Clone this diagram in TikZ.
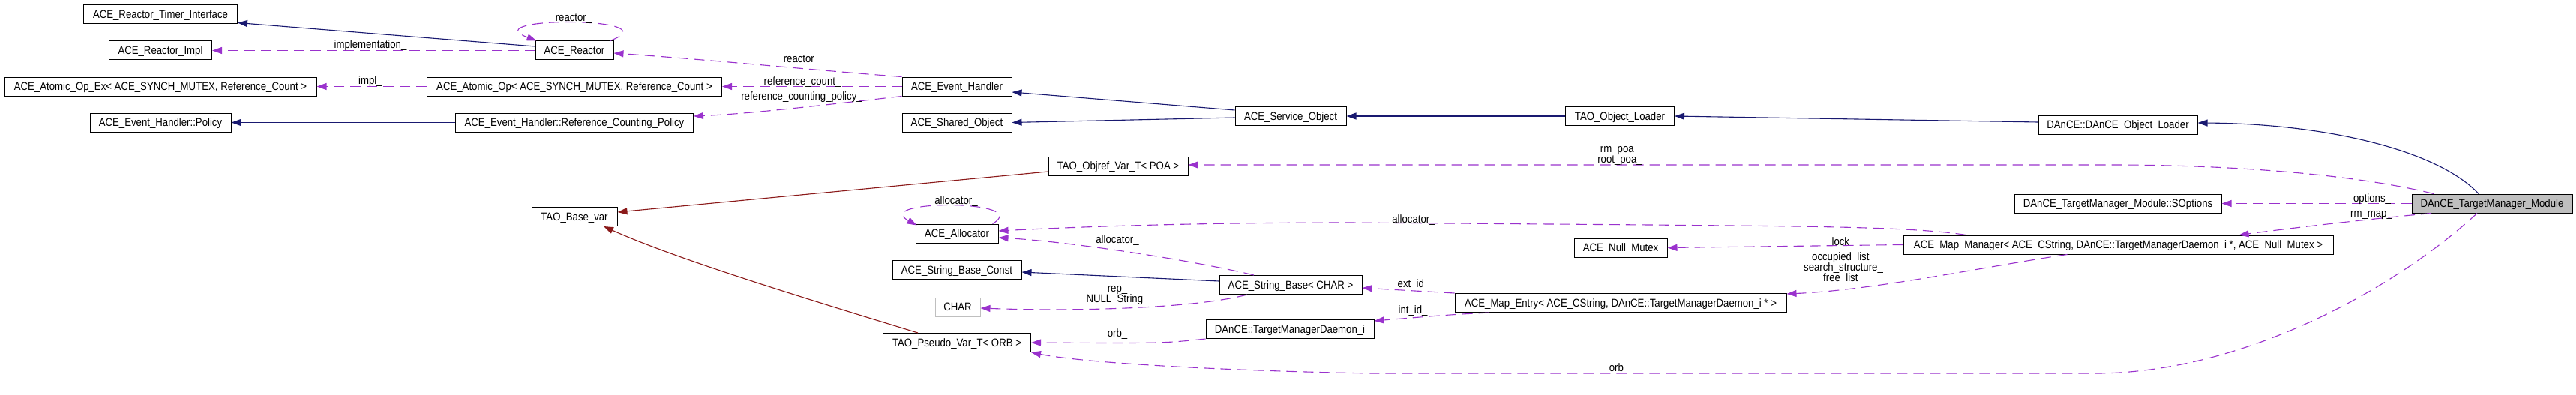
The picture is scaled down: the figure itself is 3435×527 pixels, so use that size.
\documentclass[tikz,border=0pt]{standalone}
\usepackage{fontspec}
\setmainfont{Liberation Sans}[FakeStretch=0.88]
\usetikzlibrary{arrows.meta}
\definecolor{inhblue}{HTML}{191970}
\definecolor{usepurple}{HTML}{9A32CD}
\definecolor{privbrown}{HTML}{8B1A1A}
\definecolor{boxgrey}{HTML}{BFBFBF}
\begin{document}
\begin{tikzpicture}[x=1pt,y=-1pt,
  box/.style={draw=black, line width=1pt, inner sep=0pt, minimum height=25pt,
    text height=12pt, text depth=2pt, font=\fontsize{15}{17}\selectfont},
  lbl/.style={inner sep=0pt, anchor=base, font=\fontsize{15}{17}\selectfont},
  tip/.style={-{Triangle[length=13pt,width=9pt]}},
  inherit/.style={tip, draw=inhblue, line width=1.1pt},
  privinherit/.style={tip, draw=privbrown, line width=1.1pt},
  uses/.style={tip, draw=usepurple, line width=1.1pt, dash pattern=on 14pt off 8pt},
]
\useasboundingbox (0,0) rectangle (3435,527);

% nodes
\node[box, minimum width=205pt] (tif) at (214,19.5) {ACE\_Reactor\_Timer\_Interface};
\node[box, minimum width=137pt] (rimpl) at (214,67.5) {ACE\_Reactor\_Impl};
\node[box, minimum width=416pt] (aopex) at (214,115.5) {ACE\_Atomic\_Op\_Ex< ACE\_SYNCH\_MUTEX, Reference\_Count >};
\node[box, minimum width=188pt] (policy) at (214,163.5) {ACE\_Event\_Handler::Policy};
\node[box, minimum width=104pt] (reactor) at (766,67.5) {ACE\_Reactor};
\node[box, minimum width=393pt] (aop) at (766,115.5) {ACE\_Atomic\_Op< ACE\_SYNCH\_MUTEX, Reference\_Count >};
\node[box, minimum width=317pt] (rcp) at (766,163.5) {ACE\_Event\_Handler::Reference\_Counting\_Policy};
\node[box, minimum width=114pt] (basevar) at (766,289) {TAO\_Base\_var};
\node[box, minimum width=146pt] (evh) at (1276,115.5) {ACE\_Event\_Handler};
\node[box, minimum width=146pt] (shared) at (1276,163.5) {ACE\_Shared\_Object};
\node[box, minimum width=110pt] (alloc) at (1276,311.5) {ACE\_Allocator};
\node[box, minimum width=172pt] (sbconst) at (1276,360) {ACE\_String\_Base\_Const};
\node[box, draw=boxgrey, minimum width=60pt] (char) at (1277,409.5) {CHAR};
\node[box, minimum width=197pt] (pseudo) at (1276,457) {TAO\_Pseudo\_Var\_T< ORB >};
\node[box, minimum width=186pt] (objref) at (1491,221.5) {TAO\_Objref\_Var\_T< POA >};
\node[box, minimum width=148pt] (svc) at (1721,155) {ACE\_Service\_Object};
\node[box, minimum width=190pt] (sbase) at (1721,380) {ACE\_String\_Base< CHAR >};
\node[box, minimum width=224pt] (daemon) at (1720,439) {DAnCE::TargetManagerDaemon\_i};
\node[box, minimum width=145pt] (tol) at (2160,155) {TAO\_Object\_Loader};
\node[box, minimum width=124pt] (nullmx) at (2161,330.5) {ACE\_Null\_Mutex};
\node[box, minimum width=442pt] (mapentry) at (2161,404) {ACE\_Map\_Entry< ACE\_CString, DAnCE::TargetManagerDaemon\_i * >};
\node[box, minimum width=212pt] (dol) at (2824,166.5) {DAnCE::DAnCE\_Object\_Loader};
\node[box, minimum width=276pt] (sopt) at (2824,271.5) {DAnCE\_TargetManager\_Module::SOptions};
\node[box, minimum width=573pt] (mapmgr) at (2824.5,326.5) {ACE\_Map\_Manager< ACE\_CString, DAnCE::TargetManagerDaemon\_i *, ACE\_Null\_Mutex >};
\node[box, fill=boxgrey, minimum width=214pt] (module) at (3323,271.5) {DAnCE\_TargetManager\_Module};

% inheritance (public)
\draw[inherit] ([yshift=5.5pt]reactor.west) -- ([yshift=2pt]tif.south east);
\draw[inherit] (rcp.west) -- (policy.east);
\draw[inherit] ([yshift=8pt]svc.west) -- ([yshift=-7.5pt]evh.east);
\draw[inherit] ([yshift=-2pt]svc.west) -- (shared.east);
\draw[inherit] (tol.west) -- (svc.east);
\draw[inherit] ([yshift=3.5pt]dol.west) -- (tol.east);
\draw[inherit] ([xshift=-18pt]module.north) .. controls (3250,200) and (3100,165) .. ([yshift=2.5pt]dol.east);
\draw[inherit] ([yshift=5pt]sbase.west) -- ([yshift=-3pt]sbconst.east);

% private inheritance
\draw[privinherit] ([yshift=-7.5pt]objref.west) -- ([yshift=6pt]basevar.east);
\draw[privinherit] ([xshift=-52pt]pseudo.north) .. controls (1080,400) and (900,345) .. ([xshift=39pt]basevar.south);

% usage
\draw[uses] (reactor.west) -- (rimpl.east);
\node[lbl] (limpl) at (494,65) {implementation\_};
\draw[uses] ([xshift=-5pt]reactor.north east) .. controls (900,22) and (630,22) .. ([xshift=2pt]reactor.north west);
\node[lbl] (lreact1) at (765,29) {reactor\_};
\draw[uses] (aop.west) -- (aopex.east);
\node[lbl] (limplb) at (494,112) {impl\_};
\draw[uses] (evh.north west) .. controls (1100,95) and (950,80) .. ([yshift=-3.5pt]reactor.east);
\node[lbl] (lreact2) at (1069,83) {reactor\_};
\draw[uses] (evh.west) -- (aop.east);
\node[lbl] (lrefc) at (1070,113) {reference\_count\_};
\draw[uses] (evh.south west) .. controls (1100,140) and (1000,152) .. ([yshift=8.5pt]rcp.east);
\node[lbl] (lrefp) at (1069,133) {reference\_counting\_policy\_};

\draw[uses] ([xshift=-78pt]module.north) .. controls (3150,235) and (3000,221) .. (2830,220) -- ([yshift=1.5pt]objref.east);
\node[lbl] (lrmpoa) at (2160,203) {rm\_poa\_};
\node[lbl] (lrootpoa) at (2160,217) {root\_poa\_};
\draw[uses] (module.west) -- (sopt.east);
\node[lbl] (lopt) at (3163,269) {options\_};
\draw[uses] ([xshift=-81pt]module.south) .. controls (3150,293) and (3050,305) .. ([xshift=-126pt]mapmgr.north east);
\node[lbl] (lrmmap) at (3162,289) {rm\_map\_};
\draw[uses] ([xshift=-20pt]module.south) .. controls (3200,380) and (3000,495) .. (2800,498) -- (1830,498) .. controls (1650,495) and (1450,485) .. (pseudo.south east);
\node[lbl] (lorb2) at (2159,495) {orb\_};

\draw[uses] ([xshift=-8pt]alloc.north east) .. controls (1380,266) and (1160,266) .. ([xshift=2pt,yshift=-2pt]alloc.north west);
\node[lbl] (lalloc1) at (1275,272) {allocator\_};
\draw[uses] ([xshift=-203pt]mapmgr.north) .. controls (2550,302) and (2400,302) .. (2200,300) -- (1800,297) .. controls (1600,297) and (1450,302) .. ([yshift=3.5pt]alloc.east);
\node[lbl] (lalloc3) at (1885,297) {allocator\_};
\draw[uses] ([xshift=-49pt]sbase.north) .. controls (1580,345) and (1420,322) .. ([yshift=-5.5pt]alloc.east);
\node[lbl] (lalloc2) at (1490,324) {allocator\_};
\draw[uses] (mapmgr.west) -- (nullmx.east);
\node[lbl] (llock) at (2458,327) {lock\_};
\draw[uses] ([xshift=-68pt]mapmgr.south) .. controls (2650,355) and (2500,387) .. ([yshift=-1pt]mapentry.north east);
\node[lbl] (locc) at (2458,347) {occupied\_list\_};
\node[lbl] (lsearch) at (2458,361) {search\_structure\_};
\node[lbl] (lfree) at (2458,375) {free\_list\_};
\draw[uses] (mapentry.north west) -- ([yshift=-4pt]sbase.east);
\node[lbl] (lext) at (1885,383) {ext\_id\_};
\draw[uses] ([xshift=46pt]mapentry.south west) .. controls (1930,420) .. ([yshift=11pt]daemon.east);
\node[lbl] (lint) at (1884,418) {int\_id\_};
\draw[uses] ([xshift=-58pt]sbase.south) .. controls (1600,410) and (1450,416) .. ([yshift=-1.5pt]char.east);
\node[lbl] (lrep) at (1490,389) {rep\_};
\node[lbl] (lnull) at (1490,403) {NULL\_String\_};
\draw[uses] (daemon.south west) .. controls (1550,458) .. (pseudo.east);
\node[lbl] (lorb1) at (1490,449) {orb\_};
\end{tikzpicture}
\end{document}
